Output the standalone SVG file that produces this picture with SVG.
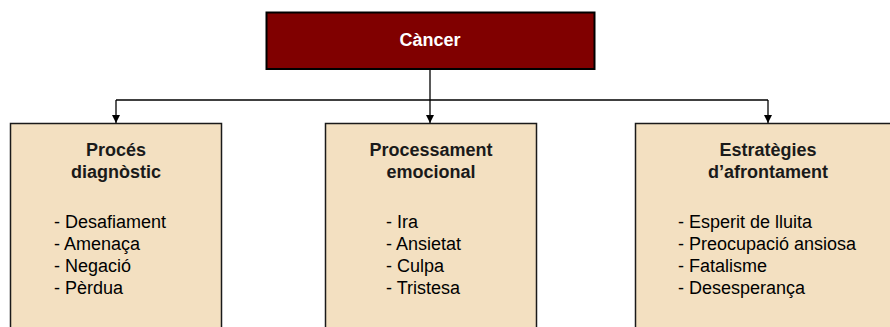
<svg xmlns="http://www.w3.org/2000/svg" width="890" height="327" viewBox="0 0 890 327">
<style>
.box{fill:#F3E0C1;stroke:#1a1a1a;stroke-width:1.5}
.ttl{font-family:"Liberation Sans",Arial,sans-serif;font-size:18px;font-weight:bold;fill:#1a1a1a;text-anchor:middle}
.itm{font-family:"Liberation Sans",Arial,sans-serif;font-size:18px;fill:#000}
.con{fill:none;stroke:#000;stroke-width:1.3}
</style>
<defs>
<marker id="ah" viewBox="0 0 10 10" refX="10" refY="5" markerWidth="8" markerHeight="8" markerUnits="userSpaceOnUse" orient="auto">
<path d="M0,0 L10,5 L0,10 Z" fill="#000"/>
</marker>
</defs>
<g id="connectors">
<path class="con" d="M430,69 V100"/>
<path class="con" d="M116,100 H768"/>
<path class="con" d="M116,100 V123" marker-end="url(#ah)"/>
<path class="con" d="M430,100 V123" marker-end="url(#ah)"/>
<path class="con" d="M768,100 V123" marker-end="url(#ah)"/>
</g>
<g id="cancer">
<rect x="266.5" y="12.5" width="328" height="56.5" fill="#800000" stroke="#000" stroke-width="2"/>
<text x="430" y="46" class="ttl" style="fill:#fff">Càncer</text>
</g>
<g id="proces">
<rect class="box" x="10.5" y="123.5" width="211" height="230"/>
<text class="ttl" x="116" y="156">Procés</text>
<text class="ttl" x="116" y="178">diagnòstic</text>
<text class="itm" x="54" y="228">- Desafiament</text>
<text class="itm" x="54" y="250">- Amenaça</text>
<text class="itm" x="54" y="272">- Negació</text>
<text class="itm" x="54" y="294">- Pèrdua</text>
</g>
<g id="processament">
<rect class="box" x="325.5" y="123.5" width="211" height="230"/>
<text class="ttl" x="431" y="156">Processament</text>
<text class="ttl" x="431" y="178">emocional</text>
<text class="itm" x="386" y="228">- Ira</text>
<text class="itm" x="386" y="250">- Ansietat</text>
<text class="itm" x="386" y="272">- Culpa</text>
<text class="itm" x="386" y="294">- Tristesa</text>
</g>
<g id="estrategies">
<rect class="box" x="635.5" y="123.5" width="266" height="230"/>
<text class="ttl" x="768" y="156">Estratègies</text>
<text class="ttl" x="768" y="178">d’afrontament</text>
<text class="itm" x="678" y="228">- Esperit de lluita</text>
<text class="itm" x="678" y="250">- Preocupació ansiosa</text>
<text class="itm" x="678" y="272">- Fatalisme</text>
<text class="itm" x="678" y="294">- Desesperança</text>
</g>
</svg>
